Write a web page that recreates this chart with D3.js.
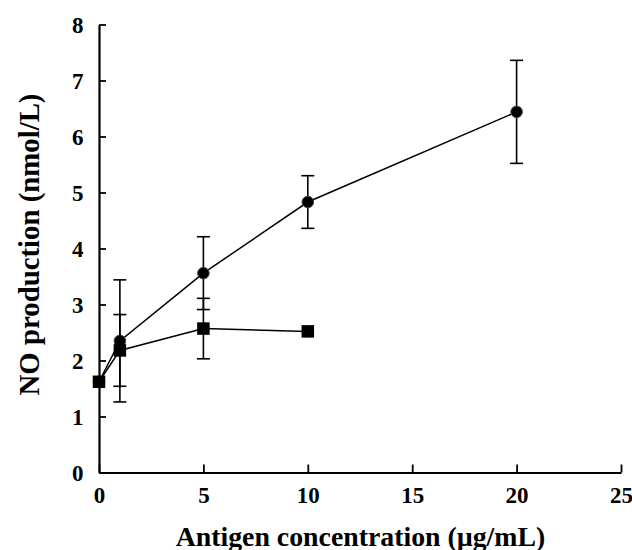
<!DOCTYPE html>
<html>
<head>
<meta charset="utf-8">
<script src="https://cdn.jsdelivr.net/npm/d3@7"></script>
<style>
  html, body { margin: 0; padding: 0; background: #fff; }
  svg { display: block; }
  text { font-family: "Liberation Serif", "Times New Roman", serif; font-weight: bold; fill: #000; }
</style>
</head>
<body>
<svg id="chart" width="632" height="550"></svg>
<script>
// Data
const circleX = [0, 1, 5, 10, 20];
const circleMean = [1.62, 2.35, 3.56, 4.83, 6.44];
const circleErr = [0, 1.09, 0.65, 0.47, 0.92];

const squareX = [0, 1, 5, 10];
const squareMean = [1.62, 2.18, 2.57, 2.52];
const squareErr = [0, 0.64, 0.54, 0];

const xTicks = [0, 5, 10, 15, 20, 25];
const yTicks = [0, 1, 2, 3, 4, 5, 6, 7, 8];
const xTitle = "Antigen concentration (\u00b5g/mL)";
const yTitle = "NO production (nmol/L)";

const svg = d3.select("#chart");
const x = d3.scaleLinear().domain([0, 25]).range([99, 621]);
const y = d3.scaleLinear().domain([0, 8]).range([472.5, 24.5]);

// Axes
const xAxis = d3.axisBottom(x).tickValues(xTicks).tickSizeInner(-8).tickSizeOuter(0).tickPadding(14);
const yAxis = d3.axisLeft(y).tickValues(yTicks).tickSizeInner(-7).tickSizeOuter(0).tickPadding(15.5);

const gx = svg.append("g").attr("transform", `translate(0,${y(0)})`).call(xAxis);
const gy = svg.append("g").attr("transform", `translate(${x(0)},0)`).call(yAxis);
[gx, gy].forEach(g => {
  g.select(".domain").attr("stroke", "#000").attr("stroke-width", 2.2);
  g.selectAll(".tick line").attr("stroke", "#000").attr("stroke-width", 1.8);
  g.selectAll(".tick text").style("font-size", "23px").attr("fill", "#000");
});
gy.selectAll(".tick text").attr("dy", "0.34em");

// Titles
svg.append("text")
  .attr("x", 360.5).attr("y", 545.5)
  .attr("text-anchor", "middle")
  .style("font-size", "27.8px")
  .text(xTitle);
svg.append("text")
  .attr("transform", "translate(39,244.5) rotate(-90)")
  .attr("text-anchor", "middle")
  .style("font-size", "28.8px")
  .text(yTitle);

function drawSeries(xs, means, errs, shape) {
  const pts = xs.map((v, i) => ({ x: v, m: means[i], e: errs[i] }));
  const line = d3.line().x(d => x(d.x)).y(d => y(d.m));
  svg.append("path").datum(pts)
    .attr("d", line).attr("fill", "none").attr("stroke", "#000").attr("stroke-width", 1.5);
  const eb = svg.append("g").attr("stroke", "#000").attr("stroke-width", 1.6);
  pts.filter(d => d.e > 0).forEach(d => {
    const cx = x(d.x);
    eb.append("line").attr("x1", cx).attr("x2", cx).attr("y1", y(d.m - d.e)).attr("y2", y(d.m + d.e));
    [d.m - d.e, d.m + d.e].forEach(v => {
      eb.append("line").attr("x1", cx - 6.5).attr("x2", cx + 6.5).attr("y1", y(v)).attr("y2", y(v));
    });
  });
  if (shape === "circle") {
    svg.append("g").selectAll("circle").data(pts).join("circle")
      .attr("cx", d => x(d.x)).attr("cy", d => y(d.m)).attr("r", 5.8)
      .attr("fill", "#000").attr("stroke", "#444").attr("stroke-width", 1);
  } else {
    const s = 12.5;
    svg.append("g").selectAll("rect").data(pts).join("rect")
      .attr("x", d => x(d.x) - s / 2).attr("y", d => y(d.m) - s / 2)
      .attr("width", s).attr("height", s).attr("fill", "#000");
  }
}

drawSeries(circleX, circleMean, circleErr, "circle");
drawSeries(squareX, squareMean, squareErr, "square");
</script>
</body>
</html>
